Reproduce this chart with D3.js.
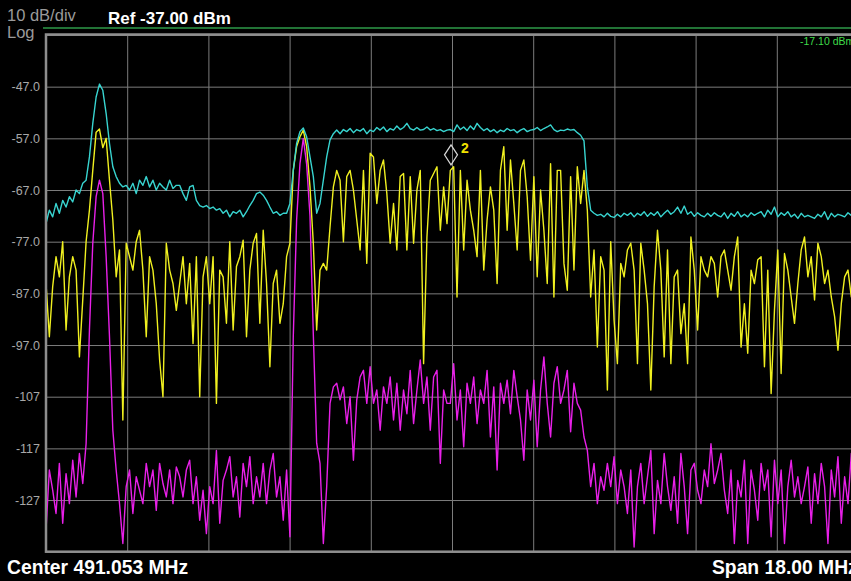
<!DOCTYPE html>
<html><head><meta charset="utf-8">
<script src="https://cdn.jsdelivr.net/npm/d3@7"></script>
<style>html,body{margin:0;padding:0;background:#000;overflow:hidden}text{font-family:"Liberation Sans",Arial,sans-serif}</style>
</head><body>
<svg id="chart" width="851" height="581"></svg>
<script>
// ---- data ----
const startFreqMHz = 482.053;
const stopFreqMHz = 500.053;
const refLevelDbm = -37;
const dbPerDiv = 10;
const headerScale = "10 dB/div";
const headerMode = "Log";
const headerRef = "Ref -37.00 dBm";
const footerCenter = "Center 491.053 MHz";
const footerSpan = "Span 18.00 MHz";
const displayLineLabel = "-17.10 dBm";
const yTickValues = [-47, -57, -67, -77, -87, -97, -107, -117, -127];
const yTickLabels = ["-47.0", "-57.0", "-67.0", "-77.0", "-87.0", "-97.0", "-107", "-117", "-127"];
const marker = { id: "2", freqMHz: 491.031, dbm: -60.2 };

const yellowTrace = [
-85.1,-95.4,-85.7,-79.9,-83.8,-77.0,-94.1,-83.8,-79.9,-82.5,
-99.3,-88.3,-77.0,-70.9,-63.2,-55.8,-55.2,-58.8,-57.0,-65.1,
-72.8,-83.8,-78.6,-111.5,-77.3,-79.9,-82.5,-77.0,-74.8,-82.5,
-95.4,-79.9,-82.5,-89.0,-99.9,-107.0,-77.3,-82.5,-85.1,-90.3,
-85.1,-79.9,-89.0,-81.2,-96.7,-79.9,-107.0,-83.8,-79.9,-89.0,
-79.9,-108.3,-82.5,-83.8,-92.8,-77.0,-94.1,-81.8,-79.9,-76.7,
-95.4,-82.5,-77.3,-75.4,-92.8,-74.8,-85.1,-101.2,-85.1,-82.5,
-92.8,-89.0,-79.9,-77.3,-63.2,-58.6,-56.7,-55.4,-58.6,-66.4,
-77.3,
-94.1,-82.5,-81.2,-82.5,-74.1,-66.4,-63.2,-65.1,-77.0,-64.4,
-63.2,-67.0,-72.8,-78.6,-63.2,-81.2,-59.9,-60.6,-69.6,-63.2,
-61.2,-67.7,-77.3,-69.6,-78.6,-64.4,-63.8,-78.6,-64.4,-77.3,
-67.0,-63.2,-100.6,-76.1,-65.1,-63.8,-62.5,-74.8,-66.4,-73.5,
-63.2,-62.5,-87.7,-63.2,-78.6,-65.1,-70.9,-74.8,-79.9,-63.2,
-82.5,-72.8,-66.4,-70.9,-85.1,-63.2,-58.6,-74.8,-61.2,-69.6,
-78.6,-63.2,-61.2,-68.3,-80.6,-64.4,-83.8,-67.0,-74.8,-85.1,
-61.9,-87.7,-63.2,-63.2,-81.2,-86.4,-64.4,-82.5,-62.5,-69.6,
-63.2,
-70.9,-87.7,-78.6,-97.4,-79.9,-82.5,-105.7,-77.0,-92.2,-100.6,
-81.2,-83.8,-78.6,-77.3,-82.5,-100.6,-77.3,-82.5,-89.0,-105.7,
-85.7,-74.8,-82.5,-99.3,-78.6,-100.6,-83.8,-82.5,-94.8,-89.0,
-100.6,-76.1,-82.5,-94.1,-79.9,-82.5,-83.8,-79.9,-81.2,-87.7,
-79.9,-78.6,-82.5,-86.4,-79.9,-76.1,-97.4,-89.0,-98.6,-82.5,
-85.1,-80.5,-79.9,-101.2,-82.5,-106.4,-90.3,-78.6,-102.5,-79.3,
-82.5,-87.7,-92.8,-85.1,-78.6,-76.1,-83.8,-79.9,-88.3,-77.3,
-79.9,-85.1,-82.5,-87.7,-91.5,-98.0,-89.0,-83.8,-82.5,-87.7,
-83.8,-89.0
];

const cyanTrace = [
-73.5,-70.9,-72.2,-69.6,-71.5,-69.0,-70.3,-68.3,-69.3,-67.0,
-67.7,-65.7,-65.1,-60.6,-54.1,-49.0,-46.5,-47.7,-52.2,-58.0,
-62.5,-64.4,-65.7,-66.4,-66.1,-67.0,-65.7,-67.7,-65.1,-66.1,
-64.4,-66.4,-65.1,-67.0,-65.7,-66.4,-67.0,-65.1,-66.7,-66.1,
-66.1,-67.7,-69.0,-66.4,-66.1,-69.0,-70.0,-70.3,-70.0,-70.6,
-70.3,-70.9,-70.6,-71.5,-70.9,-72.2,-71.2,-71.5,-70.9,-72.2,
-71.2,-70.0,-69.0,-67.7,-67.4,-68.0,-69.0,-70.3,-71.5,-71.2,
-71.9,-71.5,-71.5,-69.6,-63.2,-58.0,-55.7,-55.0,-56.7,-60.6,
-64.4,
-71.5,-69.6,-65.1,-60.6,-57.3,-56.1,-55.4,-56.1,-55.3,-55.7,
-55.1,-55.9,-55.3,-55.6,-55.1,-56.1,-55.4,-55.7,-54.9,-55.4,
-54.8,-55.7,-55.1,-55.4,-54.6,-55.3,-54.9,-54.1,-55.1,-55.4,
-54.9,-55.4,-55.3,-54.8,-55.4,-55.1,-55.5,-55.3,-55.7,-55.4,
-55.3,-55.7,-54.4,-55.3,-54.8,-55.5,-54.6,-55.3,-54.1,-54.9,
-55.5,-55.1,-55.7,-55.3,-55.9,-55.4,-55.7,-55.1,-55.5,-55.3,
-55.9,-55.4,-55.1,-55.7,-55.4,-55.3,-54.9,-55.5,-55.1,-54.8,
-54.4,-55.3,-55.7,-55.4,-55.5,-55.2,-55.4,-55.3,-55.9,-56.4,
-57.5,
-66.4,-70.9,-71.5,-71.9,-71.7,-72.2,-71.5,-72.1,-72.3,-71.7,
-72.2,-71.5,-71.9,-71.4,-72.2,-71.5,-71.9,-71.2,-72.1,-71.4,
-71.9,-71.2,-72.2,-71.5,-70.9,-71.7,-71.2,-70.3,-71.5,-70.1,
-71.7,-71.2,-72.1,-71.4,-71.9,-72.2,-71.5,-72.1,-71.4,-71.9,
-72.2,-71.4,-72.5,-71.5,-72.1,-71.2,-72.2,-71.7,-72.2,-71.4,
-71.9,-71.5,-71.2,-72.2,-70.9,-71.7,-70.3,-72.2,-71.4,-71.9,
-71.2,-72.2,-71.7,-72.5,-71.5,-72.2,-71.9,-72.2,-72.5,-71.7,
-72.2,-71.2,-72.7,-71.5,-72.2,-71.7,-71.9,-72.2,-71.4,-71.9,
-71.5,-72.0
];

const magentaTrace = [
-132.8,-121.2,-125.1,-129.6,-119.9,-131.5,-121.9,-127.7,-119.3,-126.4,
-118.0,-123.8,-116.1,-94.1,-77.3,-68.3,-65.1,-67.7,-79.9,-95.4,
-113.5,-121.2,-127.7,-135.4,-124.4,-121.2,-129.6,-122.5,-125.1,-127.7,
-119.9,-124.4,-121.2,-129.0,-119.9,-123.8,-126.4,-121.2,-127.7,-120.6,
-122.5,-126.4,-121.2,-119.3,-127.7,-122.5,-130.9,-125.1,-133.5,-124.4,
-127.7,-117.4,-131.5,-123.2,-121.2,-118.6,-126.4,-122.5,-130.3,-119.9,
-124.4,-118.6,-127.7,-122.5,-126.4,-119.9,-127.7,-121.2,-118.0,-126.4,
-122.5,-130.9,-121.2,-134.1,-95.4,-72.8,-61.9,-57.0,-62.0,-72.0,
-95.0,
-116.0,-119.9,-135.4,-124.4,-108.3,-105.1,-104.4,-107.6,-105.1,-112.2,
-107.0,-119.3,-107.6,-103.2,-101.9,-108.3,-101.2,-108.3,-105.7,-113.5,
-105.1,-108.3,-103.2,-111.5,-104.4,-113.5,-105.7,-110.3,-101.9,-112.2,
-105.7,-99.9,-108.3,-103.2,-113.5,-103.2,-101.9,-119.9,-105.7,-108.3,
-108.3,-100.6,-111.5,-105.7,-116.7,-104.4,-108.3,-103.2,-112.2,-105.7,
-108.3,-101.9,-114.8,-105.1,-121.2,-104.4,-108.3,-103.8,-110.3,-101.9,
-107.0,-111.5,-119.3,-105.7,-111.5,-103.8,-116.7,-105.7,-99.3,-108.3,
-114.8,-104.4,-101.2,-108.3,-105.7,-101.9,-113.8,-104.4,-108.3,-109.6,
-114.8,
-117.4,-124.4,-119.9,-127.7,-122.5,-125.1,-119.9,-124.4,-118.6,-127.7,
-121.2,-124.4,-129.6,-121.2,-136.1,-124.4,-119.9,-127.7,-122.5,-117.4,
-133.5,-123.2,-127.7,-118.0,-124.4,-129.0,-122.5,-131.5,-118.0,-124.4,
-133.5,-121.2,-119.9,-125.1,-127.7,-121.2,-124.4,-116.1,-123.8,-121.2,
-118.0,-125.1,-129.6,-121.2,-135.4,-123.2,-126.4,-119.3,-135.4,-121.2,
-125.1,-130.9,-119.9,-125.1,-121.2,-134.1,-119.3,-127.7,-121.2,-135.4,
-124.4,-119.3,-126.4,-122.5,-127.7,-124.4,-120.6,-131.5,-121.9,-127.7,
-119.9,-124.4,-135.4,-121.2,-126.4,-118.6,-131.5,-122.5,-127.7,-118.0,
-135.4,-121.2
];

// ---- layout ----
const W = 851, H = 581;
const plot = { left: 46, top: 35, right: 858, bottom: 551.7 };
const svg = d3.select("#chart");
svg.append("rect").attr("width", W).attr("height", H).attr("fill", "#000");

const x = d3.scaleLinear().domain([startFreqMHz, stopFreqMHz]).range([plot.left, plot.right]);
const y = d3.scaleLinear().domain([refLevelDbm - 10 * dbPerDiv, refLevelDbm]).range([plot.bottom, plot.top]);
const freqStep = (stopFreqMHz - startFreqMHz) / 10;

// grid
const gridX = d3.range(11).map(i => startFreqMHz + i * freqStep);
const gridY = d3.range(11).map(i => refLevelDbm - i * dbPerDiv);
const gx = svg.append("g").attr("transform", `translate(0,${plot.bottom})`)
  .call(d3.axisBottom(x).tickValues(gridX).tickSize(-(plot.bottom - plot.top)).tickFormat(""));
const gy = svg.append("g").attr("transform", `translate(${plot.left},0)`)
  .call(d3.axisLeft(y).tickValues(gridY).tickSize(-(plot.right - plot.left)).tickFormat(""));
[gx, gy].forEach(g => {
  g.select(".domain").remove();
  g.selectAll(".tick line").attr("stroke", "#7c7c7c").attr("stroke-width", 1);
});

// border
svg.append("rect").attr("x", plot.left).attr("y", plot.top - 0.5)
  .attr("width", plot.right - plot.left).attr("height", plot.bottom - plot.top + 0.5)
  .attr("fill", "none").attr("stroke", "#8e8e8e").attr("stroke-width", 2.5);

// green display line indicator
svg.append("line").attr("x1", 43).attr("x2", W).attr("y1", 28).attr("y2", 28)
  .attr("stroke", "#2e9a48").attr("stroke-width", 1.5);
svg.append("text").attr("x", 800).attr("y", 45).attr("fill", "#3fdc4a")
  .attr("font-size", 10.5).text(displayLineLabel);

// y labels
const yl = svg.append("g").attr("transform", `translate(${plot.left - 5},0)`)
  .call(d3.axisLeft(y).tickValues(yTickValues).tickSize(0).tickPadding(1)
    .tickFormat((d, i) => yTickLabels[i]));
yl.select(".domain").remove();
yl.selectAll("text").attr("fill", "#a8a8a8").attr("font-size", 12.5)
  .attr("font-family", '"Liberation Sans", Arial, sans-serif');

// traces
svg.append("clipPath").attr("id", "clip").append("rect")
  .attr("x", plot.left + 1).attr("y", plot.top).attr("width", plot.right - plot.left)
  .attr("height", plot.bottom - plot.top - 1);
function tracePts(arr) {
  const n = arr.length;
  return arr.map((v, i) => [startFreqMHz + i * (stopFreqMHz - startFreqMHz) / (n - 1), v]);
}
const line = d3.line().x(d => x(d[0])).y(d => y(d[1]));
const traces = svg.append("g").attr("clip-path", "url(#clip)");
traces.append("path").attr("d", line(tracePts(yellowTrace)))
  .attr("fill", "none").attr("stroke", "#f0f020").attr("stroke-width", 1.4).attr("stroke-linejoin", "round");
traces.append("path").attr("d", line(tracePts(cyanTrace)))
  .attr("fill", "none").attr("stroke", "#38d4d0").attr("stroke-width", 1.4).attr("stroke-linejoin", "round");
traces.append("path").attr("d", line(tracePts(magentaTrace)))
  .attr("fill", "none").attr("stroke", "#e820e8").attr("stroke-width", 1.4).attr("stroke-linejoin", "round");

// marker
const mx = x(marker.freqMHz), my = y(marker.dbm);
svg.append("path").attr("d", `M${mx},${my - 10}L${mx + 6.5},${my}L${mx},${my + 10}L${mx - 6.5},${my}Z`)
  .attr("fill", "none").attr("stroke", "#d8d8d8").attr("stroke-width", 1.2);
svg.append("text").attr("x", mx + 10).attr("y", my - 2).attr("fill", "#f0e000")
  .attr("font-size", 14).attr("font-weight", "bold").text(marker.id);

// header / footer text
svg.append("text").attr("x", 7).attr("y", 21).attr("fill", "#9a9a9a").attr("font-size", 16.5).text(headerScale);
svg.append("text").attr("x", 7).attr("y", 38).attr("fill", "#9a9a9a").attr("font-size", 16.5).text(headerMode);
svg.append("text").attr("x", 108).attr("y", 24).attr("fill", "#ffffff").attr("font-size", 17)
  .attr("font-weight", "bold").text(headerRef);
svg.append("text").attr("x", 7).attr("y", 574).attr("fill", "#ffffff").attr("font-size", 19.3)
  .attr("font-weight", "bold").text(footerCenter);
svg.append("text").attr("x", 712).attr("y", 574).attr("fill", "#ffffff").attr("font-size", 19.3)
  .attr("font-weight", "bold").text(footerSpan);
</script>
</body></html>
